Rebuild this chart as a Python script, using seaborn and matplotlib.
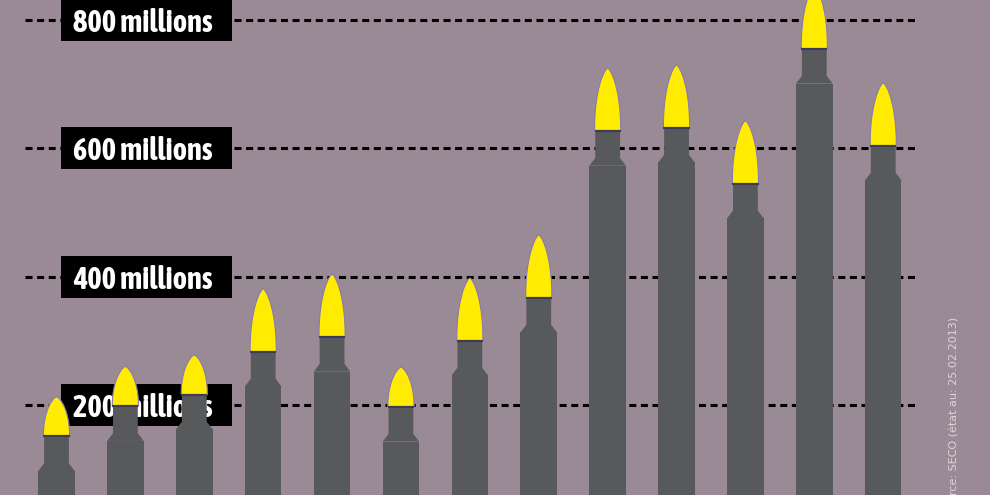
import numpy as np
import pandas as pd
import matplotlib
matplotlib.use('Agg')
import matplotlib.pyplot as plt
from matplotlib import font_manager
from matplotlib.patches import Rectangle
import seaborn as sns

# Swiss war material exports (millions CHF)
years = ['2000', '2001', '2002', '2003', '2004', '2005', '2006',
         '2007', '2008', '2009', '2010', '2011', '2012']
exports = [213, 260, 278, 381, 404, 259, 398, 465, 725, 730, 643, 853, 702]
grid_levels = [200, 400, 600, 800]
grid_labels = ['200 millions', '400 millions', '600 millions', '800 millions']
source_text = 'Source: SECO (état au: 25.02.2013)'

BG = '#9a8a95'
CASE = '#58595b'
TIP = '#ffec00'

# look for a condensed bold face, otherwise Roboto
label_font, label_stretch = 'Roboto', 'normal'
for f in font_manager.fontManager.ttflist:
    if ('Narrow' in f.name or 'Condensed' in f.name) and f.weight in (700, 'bold'):
        label_font, label_stretch = f.name, f.stretch
        break
    if f.stretch in ('condensed', 'semi-condensed') and f.weight in (700, 'bold'):
        label_font, label_stretch = f.name, f.stretch

df = pd.DataFrame({'year': years, 'value': exports})

# bullet geometry (data units)
body_w, neck_w, tip_w = 0.53, 0.36, 0.38
neck_h, shoulder_h = 42, 12


def tip_height(v):
    return 98 if v > 300 else 62


df['body'] = [v - tip_height(v) - neck_h - shoulder_h for v in exports]

fig = plt.figure(figsize=(9.9, 4.95), dpi=100)
fig.patch.set_facecolor(BG)
ax = fig.add_axes([0, 0, 1, 1])
ax.set_facecolor(BG)

sns.barplot(data=df, x='year', y='body', color=CASE, saturation=1,
            width=body_w, errorbar=None, ax=ax, zorder=3)

for i, v in enumerate(exports):
    th = tip_height(v)
    base = v - th
    neck_bot = base - neck_h
    body_top = neck_bot - shoulder_h
    # shoulder + neck
    xs = [i - body_w / 2, i - neck_w / 2, i - neck_w / 2,
          i + neck_w / 2, i + neck_w / 2, i + body_w / 2]
    ys = [body_top, neck_bot, base, base, neck_bot, body_top]
    ax.fill(xs, ys, color=CASE, lw=0, zorder=3)
    # ogive tip
    t = np.linspace(0, 1, 80)
    hw = tip_w / 2 * (1 - t ** 2.2) ** 0.7
    tx = np.concatenate([i - hw, (i + hw)[::-1]])
    ty = np.concatenate([base + t * th, (base + t * th)[::-1]])
    ax.fill(tx, ty, facecolor=TIP, edgecolor='#8a78b0', lw=0.8, zorder=4)
    ax.plot([i - tip_w / 2, i + tip_w / 2], [base, base],
            color='#3e3a5e', lw=1.6, zorder=5, solid_capstyle='butt')

# dashed guide lines with black label boxes
ax.hlines(grid_levels, -0.46, 12.5, colors='black', lw=2.2,
          linestyles=(0, (2.3, 1.5)), zorder=1)
box_h = 65
labels = []
for lvl, lab in zip(grid_levels, grid_labels):
    ax.add_patch(Rectangle((0.065, lvl - box_h / 2), 2.48, box_h,
                           facecolor='black', edgecolor='none', zorder=2))
    labels.append(ax.text(1.25, lvl, lab, color='white', fontsize=20,
                          fontweight='bold', family=label_font,
                          fontstretch=label_stretch, ha='center',
                          va='center_baseline', zorder=2.5))

ax.text(13.03, 337, source_text, rotation=90, ha='center', va='top',
        color='#ddd5da', fontsize=8, zorder=2)

ax.set_xlim(-0.82, 13.55)
ax.set_ylim(59.7, 831.2)
ax.axis('off')

# fit label text to ~145 px wide, like the reference
renderer = fig.canvas.get_renderer()
w = labels[0].get_window_extent(renderer).width
size = min(20 * 145 / w, 22)
for t in labels:
    t.set_fontsize(size)

plt.savefig('out.png', dpi=100, facecolor=BG)
plt.close()
